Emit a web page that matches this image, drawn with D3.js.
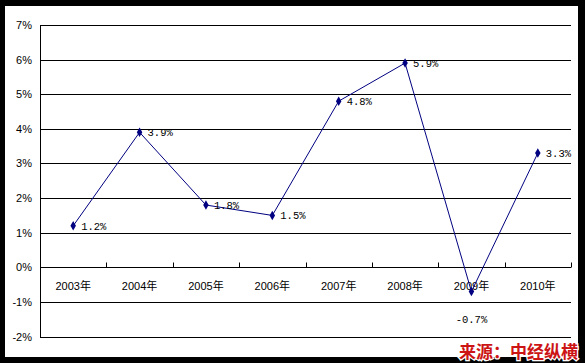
<!DOCTYPE html>
<html>
<head>
<meta charset="utf-8">
<script src="https://cdn.jsdelivr.net/npm/d3@7/dist/d3.min.js"></script>
<style>
  body { margin: 0; background: #000; }
  svg { display: block; }
</style>
</head>
<body>
<div id="chart"></div>
<script>
  // values
  var years = ["2003年", "2004年", "2005年", "2006年", "2007年", "2008年", "2009年", "2010年"];
  var growth = [1.2, 3.9, 1.8, 1.5, 4.8, 5.9, -0.7, 3.3];
  var yTicks = [-2, -1, 0, 1, 2, 3, 4, 5, 6, 7];
  var source = "来源：中经纵横";

  var W = 585, H = 363;
  var svg = d3.select("#chart").append("svg").attr("width", W).attr("height", H);

  // black frame with white inside
  svg.append("rect").attr("width", W).attr("height", H).attr("fill", "#000");
  svg.append("rect").attr("x", 5).attr("y", 6).attr("width", 573).attr("height", 351).attr("fill", "#fff");

  // plot area (names avoid window.top)
  var plotL = 40, plotR = 571, plotT = 25, plotB = 336.6;

  var x = d3.scaleBand().domain(years).range([plotL, plotR]);
  var y = d3.scaleLinear().domain([-2, 7]).range([plotB, plotT]);

  // horizontal gridlines
  svg.append("g").selectAll("line").data(yTicks).enter().append("line")
    .attr("x1", plotL).attr("x2", plotR)
    .attr("y1", function(d){ return Math.round(y(d)) + 0.5; })
    .attr("y2", function(d){ return Math.round(y(d)) + 0.5; })
    .attr("stroke", "#000").attr("stroke-width", 1);

  // y axis line
  svg.append("line")
    .attr("x1", plotL + 0.5).attr("x2", plotL + 0.5)
    .attr("y1", Math.round(plotT)).attr("y2", Math.round(plotB) + 1)
    .attr("stroke", "#000");

  // y tick labels
  svg.append("g").selectAll("text").data(yTicks).enter().append("text")
    .attr("x", 32).attr("y", function(d){ return y(d) + 4; })
    .attr("text-anchor", "end")
    .style("font-family", "'Liberation Sans', sans-serif")
    .style("font-size", "11px")
    .text(function(d){ return d + "%"; });

  // category ticks on the 0% line, pointing up
  var zeroY = Math.round(y(0)) + 0.5;
  svg.append("g").selectAll("line").data(years).enter().append("line")
    .attr("x1", function(d){ return Math.round(x(d) + x.bandwidth()) + 0.5; })
    .attr("x2", function(d){ return Math.round(x(d) + x.bandwidth()) + 0.5; })
    .attr("y1", zeroY - 5).attr("y2", zeroY)
    .attr("stroke", "#000");

  // category labels
  svg.append("g").selectAll("text").data(years).enter().append("text")
    .attr("x", function(d){ return x(d) + x.bandwidth() / 2; })
    .attr("y", zeroY + 22)
    .attr("text-anchor", "middle")
    .style("font-family", "'Liberation Sans', 'Noto Sans CJK SC', sans-serif")
    .style("font-size", "11px")
    .text(function(d){ return d; });

  var pts = years.map(function(d, i){ return { year: d, v: growth[i] }; });
  var cx = function(d){ return x(d.year) + x.bandwidth() / 2; };

  // line
  var line = d3.line().x(cx).y(function(d){ return y(d.v); });
  svg.append("path").datum(pts)
    .attr("d", line)
    .attr("fill", "none")
    .attr("stroke", "#000080")
    .attr("stroke-width", 1);

  // diamond markers
  svg.append("g").selectAll("path").data(pts).enter().append("path")
    .attr("d", d3.symbol().type(d3.symbolDiamond).size(26))
    .attr("transform", function(d){ return "translate(" + cx(d) + "," + y(d.v) + ")"; })
    .attr("fill", "#000080");

  // value labels
  svg.append("g").selectAll("text").data(pts).enter().append("text")
    .attr("x", function(d){ return d.v < 0 ? cx(d) : cx(d) + 8; })
    .attr("y", function(d){ return d.v < 0 ? y(d.v) + 31 : y(d.v) + 4; })
    .attr("text-anchor", function(d){ return d.v < 0 ? "middle" : "start"; })
    .style("font-family", "'Liberation Mono', monospace")
    .style("font-size", "10.5px")
    .text(function(d){ return d.v.toFixed(1) + "%"; });

  // source note
  svg.append("text")
    .attr("x", 578).attr("y", 358)
    .attr("text-anchor", "end")
    .style("font-family", "'Noto Sans CJK SC', sans-serif")
    .style("font-size", "17px")
    .style("font-weight", "bold")
    .attr("fill", "#cc1414")
    .attr("stroke", "#fff").attr("stroke-width", 2.5)
    .attr("paint-order", "stroke")
    .text(source);
</script>
</body>
</html>
